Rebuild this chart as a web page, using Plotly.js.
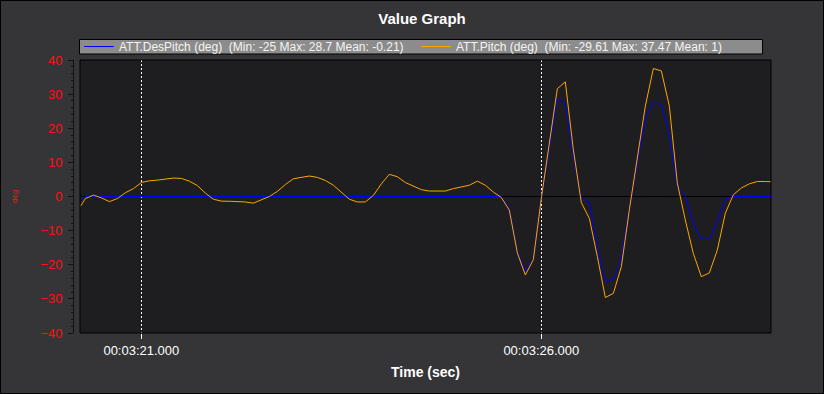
<!DOCTYPE html>
<html>
<head>
<meta charset="utf-8">
<script src="https://cdn.plot.ly/plotly-3.0.1.min.js"></script>
<style>
html,body{margin:0;padding:0;background:#353537;}
#wrap{position:relative;width:824px;height:394px;}
#chart{width:824px;height:394px;}
#frame{position:absolute;left:0;top:0;width:824px;height:394px;box-sizing:border-box;border:1px solid #000;pointer-events:none;}
</style>
</head>
<body>
<div id="wrap"><div id="chart"></div><div id="frame"></div></div>
<script>
var timeSec = [200.24,
  200.3,200.4,200.5,200.6,200.7,200.8,200.9,
  201.0,201.1,201.2,201.3,201.4,201.5,201.6,201.7,201.8,201.9,
  202.0,202.1,202.2,202.3,202.4,202.5,202.6,202.7,202.8,202.9,
  203.0,203.1,203.2,203.3,203.4,203.5,203.6,203.7,203.8,203.9,
  204.0,204.1,204.2,204.3,204.4,204.5,204.6,204.7,204.8,204.9,
  205.0,205.1,205.2,205.3,205.4,205.5,205.6,205.7,205.8,205.9,
  206.0,206.1,206.2,206.3,206.4,206.5,206.6,206.7,206.8,206.9,
  207.0,207.1,207.2,207.3,207.4,207.5,207.6,207.7,207.8,207.9,
  208.0,208.1,208.2,208.3,208.4,208.5,208.6,208.7,208.8,208.9];

var desPitch = [-1.2,
  0,0,0,0,0,0,0,
  0,0,0,0,0,0,0,0,0,0,
  0,0,0,0,0,0,0,0,0,0,
  0,0,0,0,0,0,0,0,0,0,
  0,0,0,0,0,0,0,0,0,0,
  0,0,0,0,0,0,-3.5,-16,-22,-18.3,
  -0.5,14.5,28.7,27.4,11.5,-0.5,-1.6,-14.7,-25,-24.2,
  -18.1,-3.4,9.8,23,27.5,27.0,18.1,2.9,0,-7.8,
  -12.5,-12.5,-7.4,-0.8,0,0,0,0,0,0];

var pitch = [-2.85,
  -0.6,0.4,-0.4,-1.5,-0.6,1.1,2.3,
  4.1,4.6,4.8,5.2,5.4,5.3,4.5,3.2,1.0,-0.8,
  -1.35,-1.4,-1.45,-1.6,-1.95,-1.0,0.0,1.5,3.5,5.2,
  5.5,6.0,5.6,4.7,3.3,1.2,-0.8,-1.6,-1.6,0.3,
  3.7,6.5,5.8,4.1,3.0,2.0,1.6,1.6,1.6,2.3,
  2.8,3.3,4.5,3.3,1.3,-0.3,-4.0,-16.5,-23.0,-18.5,
  -0.5,15.2,31.6,33.6,13.7,-1.8,-6.4,-17.6,-29.6,-28.4,
  -20.6,-3.9,10.8,26.5,37.5,36.8,26.5,3.9,-6.9,-16.7,
  -23.5,-22.4,-15.7,-4.9,0.5,2.5,3.7,4.4,4.4,4.3];

var seriesNames = ['ATT.DesPitch (deg)  (Min: -25 Max: 28.7 Mean: -0.21)',
                   'ATT.Pitch (deg)  (Min: -29.61 Max: 37.47 Mean: 1)'];
var xTickVals = [201, 206];
var xTickText = ['00:03:21.000', '00:03:26.000'];
var xRange = [200.233, 208.871];

var FONT = 'Liberation Sans, Arial, sans-serif';
var PW = 698, PH = 273, ML = 73, MT = 60;
function px2x(p){ return (p - ML) / PW; }
function px2y(p){ return (MT + PH - p) / PH; }

var traces = [
  {x: timeSec, y: desPitch, name: seriesNames[0], type: 'scatter', mode: 'lines',
   line: {color: '#0000ff', width: 1}},
  {x: timeSec, y: pitch, name: seriesNames[1], type: 'scatter', mode: 'lines',
   line: {color: '#ffa500', width: 1}}
];

var layout = {
  width: 824, height: 394,
  paper_bgcolor: '#353537',
  plot_bgcolor: '#1e1e20',
  margin: {l: ML, r: 53, t: MT, b: 394 - MT - PH, pad: 0},
  font: {family: FONT, color: '#ffffff', size: 12},
  title: {text: '<b>Value Graph</b>', font: {family: FONT, size: 15, color: '#ffffff'},
          x: 0.5, xanchor: 'center', y: 1 - 19/394, yanchor: 'middle', xref: 'paper', yref: 'container'},
  showlegend: true,
  legend: {orientation: 'h', x: px2x(79), xanchor: 'left', y: px2y(32), yanchor: 'top',
           bgcolor: 'rgba(0,0,0,0)', borderwidth: 0,
           font: {family: FONT, size: 12, color: '#f4f4f4'},
           itemwidth: 30, entrywidth: 292, entrywidthmode: 'pixels',
           tracegroupgap: 0, itemclick: false},
  xaxis: {
    domain: [7/PW, 1],
    range: xRange,
    tickvals: xTickVals, ticktext: xTickText,
    ticks: 'outside', ticklen: 5, tickcolor: '#ffffff', tickwidth: 1,
    tickfont: {family: FONT, size: 13, color: '#ffffff'},
    showgrid: true, gridcolor: '#ffffff', gridwidth: 1, griddash: '2px,2px',
    zeroline: false, showline: false,
    title: {text: '<b>Time (sec)</b>', font: {family: FONT, size: 14, color: '#ffffff'}, standoff: 10},
    fixedrange: true
  },
  yaxis: {
    anchor: 'free', position: 0,
    range: [-40, 40], dtick: 10, tick0: 0,
    ticks: 'outside', ticklen: 5, tickcolor: '#111111', tickwidth: 1,
    minor: {dtick: 2, ticks: 'outside', ticklen: 2, tickcolor: '#111111', showgrid: false},
    tickfont: {family: FONT, size: 13, color: '#ff1010'},
    ticklabelstandoff: 3,
    showline: true, linecolor: '#111111', linewidth: 1,
    showgrid: false,
    zeroline: false,
    title: {text: 'deg', font: {family: FONT, size: 8, color: '#ff1010'}, standoff: 20},
    fixedrange: true
  },
  shapes: [
    {type: 'rect', xref: 'paper', yref: 'paper', x0: px2x(79.5), x1: px2x(762.5), y0: px2y(54), y1: px2y(39.5),
     line: {color: '#000000', width: 1}, fillcolor: '#8c8c8c', layer: 'below'},
    {type: 'line', xref: 'x', yref: 'y', x0: xRange[0], x1: xRange[1], y0: 0, y1: 0,
     line: {color: '#000000', width: 1}, layer: 'below'},
    {type: 'rect', xref: 'x domain', yref: 'y domain', x0: 0, x1: 1, y0: 0, y1: 1,
     line: {color: '#000000', width: 1}, fillcolor: 'rgba(0,0,0,0)', layer: 'above'}
  ]
};

Plotly.newPlot('chart', traces, layout, {displayModeBar: false, staticPlot: true});
</script>
</body>
</html>
